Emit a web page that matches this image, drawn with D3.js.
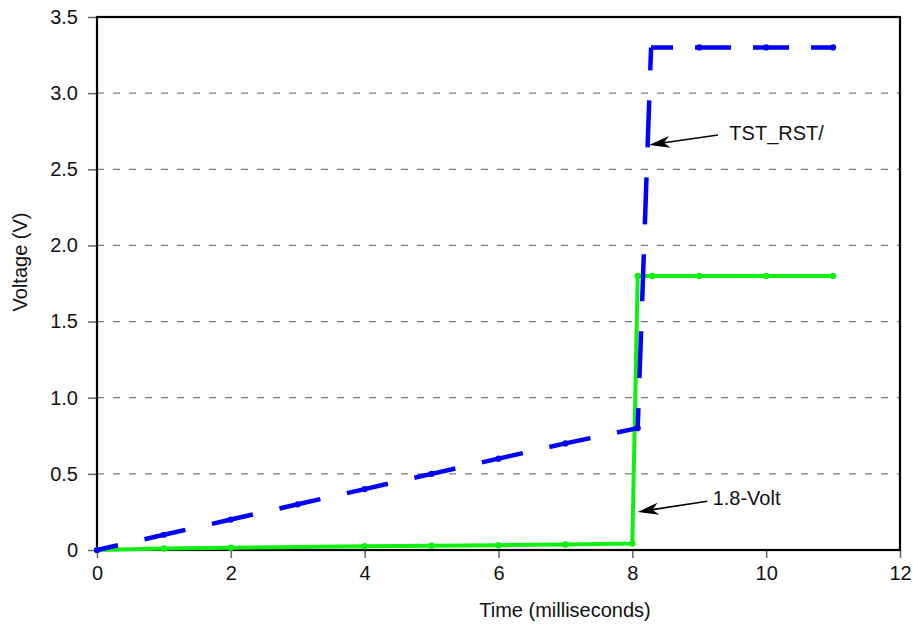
<!DOCTYPE html>
<html>
<head>
<meta charset="utf-8">
<script src="https://cdn.jsdelivr.net/npm/d3@7/dist/d3.min.js"></script>
<style>
  body { margin: 0; background: #fff; }
  text { font-family: "Liberation Sans", Arial, sans-serif; fill: #111; }
</style>
</head>
<body>
<div id="chart"></div>
<script>
// data
const rstTime = [0, 1, 2, 3, 4, 5, 6, 7, 8.08, 8.28, 9, 10, 11];
const rstVolt = [0, 0.1, 0.2, 0.3, 0.4, 0.5, 0.6, 0.7, 0.8, 3.3, 3.3, 3.3, 3.3];
const v18Time = [0, 1, 2, 4, 5, 6, 7, 8, 8.08, 8.3, 9, 10, 11];
const v18Volt = [0, 0.01, 0.015, 0.025, 0.028, 0.032, 0.036, 0.042, 1.8, 1.8, 1.8, 1.8, 1.8];
const xTicks = [0, 2, 4, 6, 8, 10, 12];
const yTicks = [0, 0.5, 1.0, 1.5, 2.0, 2.5, 3.0, 3.5];
const gridVals = [0.5, 1.0, 1.5, 2.0, 2.5, 3.0];
// annotation: label, arrow tip, arrow tail, text anchor (all in data units)
const notes = [
    { label: 'TST_RST/', tip: [8.25, 2.66], tail: [9.28, 2.725], at: [9.45, 2.69] },
    { label: '1.8-Volt', tip: [8.08, 0.25], tail: [9.12, 0.32], at: [9.2, 0.295] }
];

const width = 913, height = 625;
const mLeft = 97, mRight = 900, mTop = 17, mBottom = 550;

let svg = d3.select('#chart').append('svg')
    .attr('width', width)
    .attr('height', height);

let x = d3.scaleLinear().domain([0, 12]).range([mLeft, mRight]);
let y = d3.scaleLinear().domain([0, 3.5]).range([mBottom, mTop]);

// grid lines
svg.append('g').selectAll('line')
    .data(gridVals)
    .enter().append('line')
    .attr('x1', mLeft).attr('x2', mRight)
    .attr('y1', d => y(d)).attr('y2', d => y(d))
    .attr('stroke', '#7a7a7a')
    .attr('stroke-width', 1.3)
    .attr('stroke-dasharray', '7,9');

// axes
let xAxis = svg.append('g')
    .attr('transform', 'translate(0,' + mBottom + ')')
    .call(d3.axisBottom(x).tickValues(xTicks).tickSize(8).tickPadding(8).tickFormat(d3.format('d')));
let yAxis = svg.append('g')
    .attr('transform', 'translate(' + mLeft + ',0)')
    .call(d3.axisLeft(y).tickValues(yTicks).tickSize(9).tickPadding(10)
        .tickFormat(d => d === 0 ? '0' : d3.format('.1f')(d)));
[xAxis, yAxis].forEach(a => {
    a.select('.domain').remove();
    a.selectAll('.tick line').attr('stroke', '#666').attr('stroke-width', 1.5);
    a.selectAll('.tick text').style('font-size', '20px').attr('fill', '#111');
});

// frame
svg.append('rect')
    .attr('x', mLeft).attr('y', mTop)
    .attr('width', mRight - mLeft).attr('height', mBottom - mTop)
    .attr('fill', 'none')
    .attr('stroke', '#000')
    .attr('stroke-width', 2.2);

// series
let rst = rstTime.map((t, i) => [t, rstVolt[i]]);
let v18 = v18Time.map((t, i) => [t, v18Volt[i]]);
let line = d3.line().x(d => x(d[0])).y(d => y(d[1]));

svg.append('path')
    .datum(v18)
    .attr('d', line)
    .attr('fill', 'none')
    .attr('stroke', '#10f010')
    .attr('stroke-width', 4)
    .attr('stroke-linejoin', 'round');
svg.append('g').selectAll('circle')
    .data(v18)
    .enter().append('circle')
    .attr('cx', d => x(d[0])).attr('cy', d => y(d[1]))
    .attr('r', 3.2)
    .attr('fill', '#10f010');

// the dashed line: ramp, jump and flat part keep their own dash rhythm
let rstParts = [
    { from: 0, to: 8, dash: '42,27.2', off: 20.5 },
    { from: 8, to: 9, dash: '47,30', off: 27 },
    { from: 9, to: 12, dash: '36,22', off: 14 }
];
rstParts.forEach(p => {
    svg.append('path')
        .datum(rst.slice(p.from, p.to + 1))
        .attr('d', line)
        .attr('fill', 'none')
        .attr('stroke', '#0000ff')
        .attr('stroke-width', 4.5)
        .attr('stroke-linejoin', 'miter')
        .attr('stroke-dasharray', p.dash)
        .attr('stroke-dashoffset', p.off);
});
svg.append('g').selectAll('circle')
    .data(rst.filter((d, i) => i !== 9))
    .enter().append('circle')
    .attr('cx', d => x(d[0])).attr('cy', d => y(d[1]))
    .attr('r', 3.1)
    .attr('fill', '#0000ff');

// annotations with arrows
notes.forEach(n => {
    let tx = x(n.tip[0]), ty = y(n.tip[1]);
    let sx = x(n.tail[0]), sy = y(n.tail[1]);
    let ang = Math.atan2(sy - ty, sx - tx);
    let len = 21, half = 6;
    let bx = tx + len * Math.cos(ang), by = ty + len * Math.sin(ang);
    let nx = tx + (len - 6) * Math.cos(ang), ny = ty + (len - 6) * Math.sin(ang);
    let px = -Math.sin(ang) * half, py = Math.cos(ang) * half;
    svg.append('line')
        .attr('x1', sx).attr('y1', sy)
        .attr('x2', nx).attr('y2', ny)
        .attr('stroke', '#000')
        .attr('stroke-width', 1.6);
    svg.append('path')
        .attr('d', 'M' + tx + ',' + ty + 'L' + (bx + px) + ',' + (by + py) +
            'L' + nx + ',' + ny + 'L' + (bx - px) + ',' + (by - py) + 'Z')
        .attr('fill', '#000');
    svg.append('text')
        .attr('x', x(n.at[0])).attr('y', y(n.at[1]))
        .style('font-size', '20px')
        .text(n.label);
});

// axis titles
svg.append('text')
    .attr('x', 565).attr('y', 617)
    .attr('text-anchor', 'middle')
    .style('font-size', '20px')
    .text('Time (milliseconds)');
svg.append('text')
    .attr('transform', 'translate(27,262) rotate(-90)')
    .attr('text-anchor', 'middle')
    .style('font-size', '20px')
    .text('Voltage (V)');
</script>
</body>
</html>
